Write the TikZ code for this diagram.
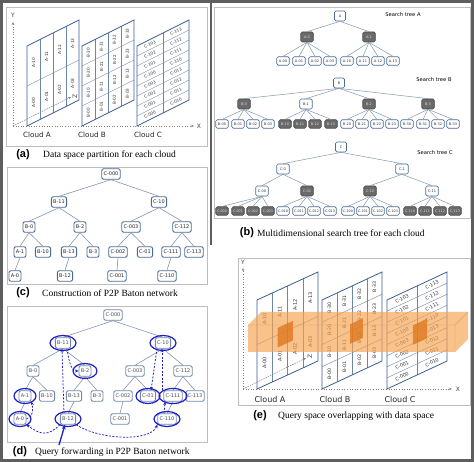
\documentclass[tikz,border=0pt]{standalone}
\usepackage{fontspec}
\setmainfont{Liberation Serif}
\newfontfamily\sansfont{DejaVu Sans}
\newfontfamily\capfont{Liberation Sans}
\usetikzlibrary{arrows.meta}
\definecolor{nodeblue}{HTML}{4A6A92}
\definecolor{edgeblue}{HTML}{8497AE}
\definecolor{darknode}{HTML}{6A6A6A}
\definecolor{planeblue}{HTML}{3D5F8F}
\definecolor{framegray}{HTML}{BDBDBD}
\definecolor{outergray}{HTML}{5E5E5E}
\definecolor{qblue}{HTML}{1E1EC8}
\definecolor{qorange}{HTML}{F6A24E}
\definecolor{qdark}{HTML}{DE7418}
\definecolor{dgray}{HTML}{7089A8}
\tikzset{
  pnl/.style={draw=framegray, line width=0.8pt},
  tedge/.style={draw=edgeblue, line width=0.5pt},
  tb/.style={draw=nodeblue, fill=white, rounded corners=1.5pt, line width=0.7pt,
    font=\sansfont\fontsize{3.5}{4}\selectfont, text=black!80, inner xsep=1.3pt,
    inner ysep=0pt, minimum height=8.5pt, minimum width=12.5pt},
  tbd/.style={tb, fill=darknode, draw=darknode!70!black, text=white!85!black},
  cn/.style={draw=nodeblue, fill=white, rounded corners=2pt, line width=0.9pt,
    font=\sansfont\fontsize{5}{6}\selectfont, text=black!85, inner xsep=1.8pt,
    inner ysep=0pt, minimum height=10.5pt, minimum width=12pt},
  dn/.style={cn, draw=dgray, text=black!70},
  cedge/.style={draw=edgeblue, line width=0.6pt},
  plane/.style={draw=planeblue, line width=0.8pt},
  gline/.style={draw=planeblue!75, line width=0.4pt},
  clab/.style={font=\sansfont\fontsize{#1}{#1}\selectfont, text=black!80, inner sep=0pt},
  clab/.default=4.3,
  cloudlab/.style={font=\sansfont\fontsize{#1}{#1}\selectfont, text=black!85},
  axisln/.style={draw=gray, line width=0.6pt, dotted, -{Stealth[length=3pt,width=2.5pt]}},
  zaxis/.style={draw=gray, line width=0.5pt, dash pattern=on 1.5pt off 1pt, -{Stealth[length=3pt,width=2.5pt]}},
  axlab/.style={font=\sansfont\fontsize{6}{6}\selectfont, text=black!75, inner sep=0pt},
  qarrow/.style={draw=qblue, line width=0.75pt, dash pattern=on 2pt off 1.5pt, -{Stealth[length=3.5pt,width=3pt]}},
  qring/.style={draw=qblue, line width=1.2pt},
  capl/.style={font=\capfont\bfseries\fontsize{11}{12}\selectfont, inner sep=0pt},
  capt/.style={font=\fontsize{9.5}{11}\selectfont, anchor=west, inner sep=0pt},
  stl/.style={font=\sansfont\fontsize{5.2}{6}\selectfont, inner sep=0pt},
}
% cloud grids (inside a scope with skewed x/y vectors)
\newcommand{\gridA}[2]{%
  \draw[gline] (0,0.5) -- (1,0.5);
  \foreach \u in {0.25,0.5,0.75} {\draw[gline] (\u,0) -- (\u,1);}
  \foreach \j in {0,1,2,3} {%
    \node[clab=#2, rotate=90] (#1A0\j) at ({(\j+0.5)/4},0.25) {A-0\j};
    \node[clab=#2, rotate=90] (#1A1\j) at ({(\j+0.5)/4},0.75) {A-1\j};
  }
  \draw[plane] (0,0) -- (0,1) -- (1,1) -- (1,0) -- cycle;
}
\newcommand{\gridB}[2]{%
  \foreach \v in {0.25,0.5,0.75} {\draw[gline] (0,\v) -- (1,\v);}
  \foreach \u in {0.25,0.5,0.75} {\draw[gline] (\u,0) -- (\u,1);}
  \foreach \r in {0,1,2,3} {\foreach \c in {0,1,2,3} {%
    \node[clab=#2, rotate=90] (#1B\r\c) at ({(\c+0.5)/4},{(\r+0.5)/4}) {B-\r\c};
  }}
  \draw[plane] (0,0) -- (0,1) -- (1,1) -- (1,0) -- cycle;
}
\newcommand{\gridC}[3]{%
  \foreach \v in {1,...,7} {\draw[gline] (0,\v/8) -- (1,\v/8);}
  \draw[gline] (0.5,0) -- (0.5,1);
  \foreach \k/\l/\r in {0/000/010,1/001/011,2/002/012,3/003/013,4/100/110,5/101/111,6/102/112,7/103/113} {%
    \node[clab=#2, rotate=#3] (#1C\l) at (0.25,{(\k+0.5)/8}) {C-\l};
    \node[clab=#2, rotate=#3] (#1C\r) at (0.75,{(\k+0.5)/8}) {C-\r};
  }
  \draw[plane] (0,0) -- (0,1) -- (1,1) -- (1,0) -- cycle;
}
\begin{document}
\begin{tikzpicture}[x=1pt,y=-1pt]
\useasboundingbox (0,0) rectangle (474,462);
\fill[white] (0,0) rectangle (474,462);
% outer frame and column divider
\draw[outergray, line width=3pt] (1.5,1.5) rectangle (472.5,460.5);
\draw[outergray, line width=1.5pt] (211,0) -- (211,245);
% panel frames
\draw[pnl] (6,7) rectangle (207,146);
\draw[pnl] (214,7) rectangle (470,218);
\draw[pnl] (7,167) rectangle (207,284);
\draw[pnl] (7,306) rectangle (207,442);
\draw[pnl] (238,258) rectangle (470,405);

% ================= (a) =================
\coordinate (aO) at (13,126);
\coordinate (aYe) at (13,22);
\coordinate (aXe) at (194,126);
\coordinate (aZe) at (71,97);
\draw[axisln] (aO) -- (aYe);
\draw[axisln] (aO) -- (aXe);
\draw[zaxis] (aO) -- (aZe);
\node[axlab] (aY) at (13,15) {Y};
\node[axlab] (aX) at (199,126) {X};
\node[axlab, rotate=90] (aZ) at (75,96) {Z};
\begin{scope}[shift={(27pt,-126pt)}, x={(52pt,26pt)}, y={(0pt,80pt)}]
  \gridA{a}{4.3}
\end{scope}
\begin{scope}[shift={(82pt,-126pt)}, x={(52pt,26pt)}, y={(0pt,80pt)}]
  \gridB{a}{4.1}
\end{scope}
\begin{scope}[shift={(137pt,-126pt)}, x={(52pt,26pt)}, y={(0pt,80pt)}]
  \gridC{a}{4.1}{26.57}
\end{scope}
\node[cloudlab=7.2] (aCA) at (37,135) {Cloud A};
\node[cloudlab=7.2] (aCB) at (92,135) {Cloud B};
\node[cloudlab=7.2] (aCC) at (148,135) {Cloud C};
\node[capl] (capa) at (23,155) {(a)};
\node[capt] (capat) at (43,155) {Data space partition for each cloud};

% ================= (b) =================
% tree A
\node[tb, minimum height=10pt, minimum width=11pt] (bA) at (340,16) {A};
\node[tbd, minimum height=10pt] (bA0) at (307,37) {A-0};
\node[tbd, minimum height=10pt] (bA1) at (369,37) {A-1};
\foreach \n/\x in {00/283,01/299,02/315,03/330,10/347,11/363,12/378,13/393} {\node[tb] (bA\n) at (\x,61) {A-\n};}
\draw[tedge] (bA.south) -- (bA0.north);
\draw[tedge] (bA.south) -- (bA1.north);
\foreach \p in {0,1} {\foreach \c in {0,1,2,3} {\draw[tedge] (bA\p.south) -- (bA\p\c.north);}}
\node[stl] (stA) at (403,15) {Search tree A};
% tree B
\node[tb, minimum height=10pt, minimum width=11pt] (bB) at (339,83) {B};
\node[tbd, minimum height=10pt] (bB0) at (244,104) {B-0};
\node[tb, minimum height=10pt] (bB1) at (306,104) {B-1};
\node[tbd, minimum height=10pt] (bB2) at (369,104) {B-2};
\node[tbd, minimum height=10pt] (bB3) at (428,104) {B-3};
\foreach \n/\x/\s in {00/222/tb,01/238/tb,02/253/tb,03/268/tb,10/285/tbd,11/300/tbd,12/315/tbd,13/331/tbd,20/347/tb,21/362/tb,22/377/tb,23/392/tb,30/407/tb,31/423/tb,32/438/tb,33/453/tb} {\node[\s] (bB\n) at (\x,124) {B-\n};}
\foreach \p in {0,1,2,3} {\draw[tedge] (bB.south) -- (bB\p.north);}
\foreach \p in {0,1,2,3} {\foreach \c in {0,1,2,3} {\draw[tedge] (bB\p.south) -- (bB\p\c.north);}}
\node[stl] (stB) at (434,80) {Search tree B};
% tree C
\node[tb, minimum height=10pt, minimum width=11pt] (bC) at (341,147) {C};
\node[tb, minimum height=10pt] (bC0) at (283,169) {C-0};
\node[tb, minimum height=10pt] (bC1) at (402,169) {C-1};
\node[tb, minimum height=10pt] (bC00) at (262,191) {C-00};
\node[tbd, minimum height=10pt] (bC01) at (307,191) {C-01};
\node[tbd, minimum height=10pt] (bC10) at (370,191) {C-10};
\node[tb, minimum height=10pt] (bC11) at (432,191) {C-11};
\foreach \n/\x/\s in {000/222/tbd,001/238/tbd,002/253/tbd,003/268/tbd,010/283/tb,011/299/tb,012/314/tb,013/330/tb,100/348/tb,101/363/tb,102/378/tb,103/393/tb,110/410/tbd,111/425/tbd,112/440/tbd,113/455/tbd} {\node[\s, inner xsep=0.8pt, font=\sansfont\fontsize{3.3}{4}\selectfont] (bC\n) at (\x,211) {C-\n};}
\draw[tedge] (bC.south) -- (bC0.north);
\draw[tedge] (bC.south) -- (bC1.north);
\foreach \p in {0,1} {\foreach \c in {0,1} {\draw[tedge] (bC\p.south) -- (bC\p\c.north);}}
\foreach \p in {00,01,10,11} {\foreach \c in {0,1,2,3} {\draw[tedge] (bC\p.south) -- (bC\p\c.north);}}
\node[stl] (stC) at (435,153) {Search tree C};
\node[capl] (capb) at (247,233) {(b)};
\node[capt] (capbt) at (257,233) {Multidimensional search tree for each cloud};

% ================= (c) =================
\foreach \nm/\t/\x/\y in {C000/C-000/111/174, B11/B-11/59/202, C10/C-10/159/202,
  B0/B-0/29/227, B2/B-2/80/227, C003/C-003/131/227, C112/C-112/182/227,
  A1/A-1/20/252, B10/B-10/43/252, B13/B-13/69/252, B3/B-3/93/252,
  C002/C-002/118/252, C01/C-01/145/252, C111/C-111/171/252, C113/C-113/194/252,
  A0/A-0/15/276, B12/B-12/65/276, C001/C-001/117/276, C110/C-110/167/276}
  {\node[cn] (c\nm) at (\x,\y) {\t};}
\foreach \a/\b in {C000/B11, C000/C10, B11/B0, B11/B2, C10/C003, C10/C112,
  B0/A1, B0/B10, B2/B13, B2/B3, C003/C002, C003/C01, C112/C111, C112/C113,
  A1/A0, B13/B12, C002/C001, C111/C110}
  {\draw[cedge] (c\a.south) -- (c\b.north);}
\node[capl] (capc) at (23,293) {(c)};
\node[capt] (capct) at (42,293) {Construction of P2P Baton network};

% ================= (d) =================
\foreach \nm/\t/\x/\y in {C000/C-000/113/315, B11/B-11/63/343, C10/C-10/163/343,
  B0/B-0/33/371, B2/B-2/85/371, C003/C-003/135/371, C112/C-112/183/371,
  A1/A-1/25/396, B10/B-10/47/396, B13/B-13/74/396, B3/B-3/97/396,
  C002/C-002/123/396, C01/C-01/148/396, C111/C-111/173/396, C113/C-113/195/396,
  A0/A-0/20/419, B12/B-12/68/419, C001/C-001/120/419, C110/C-110/167/419}
  {\node[dn] (d\nm) at (\x,\y) {\t};}
\foreach \a/\b in {C000/B11, C000/C10, B11/B0, B11/B2, C10/C003, C10/C112,
  B0/A1, B0/B10, B2/B13, B2/B3, C003/C002, C003/C01, C112/C111, C112/C113,
  A1/A0, B13/B12, C002/C001, C111/C110}
  {\draw[cedge] (d\a.south) -- (d\b.north);}
% rings
\foreach \nm/\rx in {B11/13, C10/13, B2/12, A1/11, C01/12, C111/14, A0/11, B12/13, C110/13}
  {\draw[qring] (d\nm) ellipse [x radius=\rx pt, y radius=7.5pt];}
% query forwarding arrows
\draw[qarrow] ([xshift=-4pt]dB12.north) -- ([xshift=-1pt]dB11.south);
\draw[qarrow] ([xshift=4pt]dB11.south) .. controls +(2,14) and +(-7,0) .. (dB2.west);
\draw[qarrow] (dA0.east) .. controls +(7,-3) and +(2,8) .. (dA1.south east);
\draw[qarrow] (dB12.south west) .. controls +(-12,12) and +(14,10) .. (dA0.south east);
\draw[qarrow] (dB12.south east) .. controls (100,440) and (150,442) .. (dC110.south west);
\draw[qarrow] ([xshift=-3pt]dC110.north) -- ([xshift=-8pt]dC111.south);
\draw[qarrow] ([xshift=-11pt]dC111.north) -- ([xshift=-1pt]dC10.south);
\draw[qarrow] ([xshift=-6pt]dC10.south) -- ([xshift=3pt]dC01.north);
\coordinate (dIn) at (59,445);
\draw[qblue, line width=1.3pt, -{Stealth[length=5pt,width=4pt]}] (dIn) -- ([xshift=-3pt]dB12.south);
\node[capl] (capd) at (20,452) {(d)};
\node[capt] (capdt) at (35,452) {Query forwarding in P2P Baton network};

% ================= (e) =================
\coordinate (eO) at (243,389);
\coordinate (eYe) at (243,268);
\coordinate (eXe) at (452,389);
\coordinate (eZe) at (306,358);
\draw[axisln] (eO) -- (eYe);
\draw[axisln] (eO) -- (eXe);
\draw[zaxis] (eO) -- (eZe);
\node[axlab] (eY) at (243,262) {Y};
\node[axlab] (eX) at (458,389) {X};
\node[axlab, rotate=90] (eZ) at (310,356) {Z};
\begin{scope}[shift={(257pt,-389pt)}, x={(61pt,28pt)}, y={(0pt,89pt)}]
  \gridA{e}{5}
\end{scope}
\begin{scope}[shift={(322pt,-389pt)}, x={(60pt,28pt)}, y={(0pt,89pt)}]
  \gridB{e}{4.7}
\end{scope}
\begin{scope}[shift={(387pt,-389pt)}, x={(60pt,28pt)}, y={(0pt,89pt)}]
  \gridC{e}{4.8}{25}
\end{scope}
% query box
\fill[qorange, opacity=0.65] (248,352) -- (248,325) -- (261,312) -- (468,312) -- (468,339) -- (455,352) -- cycle;
\draw[qorange!80!black, opacity=0.5, line width=0.4pt] (248,325) -- (455,325) -- (468,312) (455,325) -- (455,352);
\begin{scope}[shift={(257pt,-389pt)}, x={(61pt,28pt)}, y={(0pt,89pt)}]
  \fill[qdark, opacity=0.75] (0.34,0.36) -- (0.59,0.36) -- (0.59,0.58) -- (0.34,0.58) -- cycle;
\end{scope}
\begin{scope}[shift={(322pt,-389pt)}, x={(60pt,28pt)}, y={(0pt,89pt)}]
  \fill[qdark, opacity=0.75] (0.47,0.36) -- (0.68,0.36) -- (0.68,0.58) -- (0.47,0.58) -- cycle;
\end{scope}
\begin{scope}[shift={(387pt,-389pt)}, x={(60pt,28pt)}, y={(0pt,89pt)}]
  \fill[qdark, opacity=0.75] (0.43,0.36) -- (0.67,0.36) -- (0.67,0.58) -- (0.43,0.58) -- cycle;
\end{scope}
\node[cloudlab=8] (eCA) at (270,400) {Cloud A};
\node[cloudlab=8] (eCB) at (335,400) {Cloud B};
\node[cloudlab=8] (eCC) at (400,400) {Cloud C};
\node[capl] (cape) at (260,416) {(e)};
\node[capt] (capet) at (278,416) {Query space overlapping with data space};
\end{tikzpicture}
\end{document}
